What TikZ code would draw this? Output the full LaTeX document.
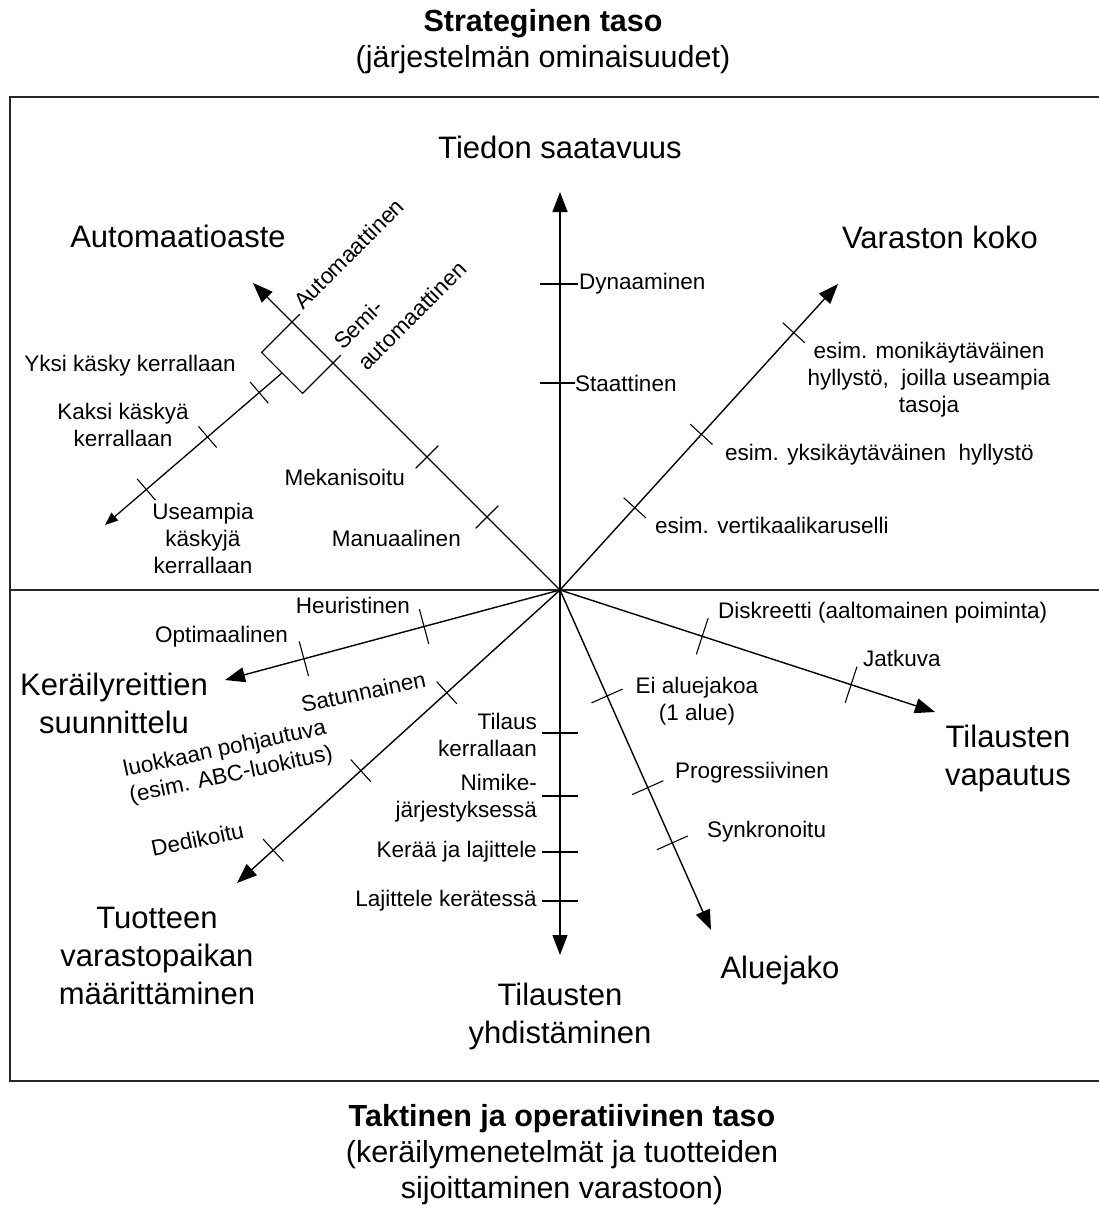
\documentclass[tikz,border=0pt]{standalone}
\usepackage{fontspec}
\setmainfont{Liberation Sans}
\usetikzlibrary{arrows.meta,calc}

\newcommand{\axtick}[4]{%
  \coordinate (tmp) at ($(#1)!(#3)!(#2)$);
  \draw[tk] ($(tmp)!#4!90:(#2)$) -- ($(tmp)!#4!-90:(#2)$);}

\begin{document}
\begin{tikzpicture}[x=1pt,y=-1pt,
  frame/.style={line width=1.6pt,draw=black!85},
  ax/.style={line width=1.4pt,-{Triangle[length=20pt,width=15pt]}},
  axs/.style={line width=1.3pt,-{Triangle[length=13pt,width=10pt]}},
  tk/.style={line width=1.1pt},
  lbl/.style={inner sep=0pt,font=\fontsize{22.5}{27}\selectfont},
  head/.style={inner sep=0pt,align=center,font=\fontsize{31}{38}\selectfont},
  ttl/.style={inner sep=0pt,align=center,font=\fontsize{30.5}{36}\selectfont}]
\useasboundingbox (0,0) rectangle (1099,1209);

% frame and divider
\draw[frame] (1099,97) -- (10,97) -- (10,1081) -- (1099,1081);
\draw[frame] (10,590) -- (1099,590);

% titles
\node[ttl] (t1) at (543,42) {\textbf{Strateginen taso}\\(järjestelmän ominaisuudet)};
\node[ttl] (t2) at (562,1155) {\textbf{Taktinen ja operatiivinen taso}\\(keräilymenetelmät ja tuotteiden\\sijoittaminen varastoon)};

% centre and axis ends
\coordinate (O) at (560,590);
\coordinate (Eup) at (560,192);
\coordinate (Edown) at (560,955);
\coordinate (Evar) at (838,284);
\coordinate (Eaut) at (253,283);
\coordinate (Eker) at (225,680);
\coordinate (Etuo) at (237,883);
\coordinate (Evap) at (935,712);
\coordinate (Ealu) at (711,930);

\draw[ax] (O) -- (Eup);
\draw[ax] (O) -- (Edown);
\draw[ax] (O) -- (Evar);
\draw[ax] (O) -- (Eaut);
\draw[ax] (O) -- (Eker);
\draw[ax] (O) -- (Etuo);
\draw[ax] (O) -- (Evap);
\draw[ax] (O) -- (Ealu);

% headings
\node[head] (hTie) at (560,147) {Tiedon saatavuus};
\node[head] (hAut) at (178,236) {Automaatioaste};
\node[head] (hVar) at (940,237) {Varaston koko};
\node[head] (hKer) at (114,703) {Keräilyreittien\\suunnittelu};
\node[head] (hVap) at (1008,758) {Tilausten\\vapautus};
\node[head] (hAlu) at (780,970) {Aluejako};
\node[head] (hYhd) at (560,1016) {Tilausten\\yhdistäminen};
\node[head] (hTuo) at (157,956) {Tuotteen\\varastopaikan\\määrittäminen};

% vertical up axis ticks
\draw[tk] (540,284) -- (578,284);
\draw[tk] (540,383) -- (575,383);
\node[lbl,anchor=west] (lDyn) at (579,284) {Dynaaminen};
\node[lbl,anchor=west] (lSta) at (575,383) {Staattinen};

% vertical down axis ticks
\draw[tk] (542,733) -- (578,733);
\draw[tk] (542,796) -- (578,796);
\draw[tk] (542,852) -- (578,852);
\draw[tk] (542,901) -- (578,901);
\node[lbl,anchor=east,align=right] (lTil) at (537,735) {Tilaus\\kerrallaan};
\node[lbl,anchor=east,align=right] (lNim) at (537,798) {Nimike-\\järjestyksessä};
\node[lbl,anchor=east] (lKer) at (537,852) {Kerää ja lajittele};
\node[lbl,anchor=east] (lLaj) at (537,901) {Lajittele kerätessä};

% Varaston koko
\axtick{O}{Evar}{635,508}{15pt}
\axtick{O}{Evar}{701,434}{15pt}
\axtick{O}{Evar}{793,332}{15pt}
\node[lbl,align=center] (lMon) at (929,380) {esim. monikäytäväinen\\hyllystö,\ \ joilla useampia\\tasoja};
\node[lbl,anchor=west] (lYks) at (725,455) {esim. yksikäytäväinen\ \ hyllystö};
\node[lbl,anchor=west] (lVer) at (655,525) {esim. vertikaalikaruselli};

% Automaatioaste
\axtick{O}{Eaut}{427,457}{16pt}
\axtick{O}{Eaut}{487,517}{16pt}
\coordinate (pa) at ($(O)!(292,322)!(Eaut)$);
\coordinate (ps) at ($(O)!(333,363)!(Eaut)$);
\coordinate (pa2) at ($(pa)!43pt!90:(Eaut)$);
\coordinate (ps2) at ($(ps)!43pt!90:(Eaut)$);
\coordinate (pa3) at ($(pa)!11pt!-90:(Eaut)$);
\coordinate (ps3) at ($(ps)!11pt!-90:(Eaut)$);
\draw[tk] (pa3) -- (pa2) -- (ps2) -- (ps3);
\coordinate (Sstart) at ($(pa2)!0.5!(ps2)$);
\coordinate (Send) at (105,525);
\draw[axs] (Sstart) -- (Send);
\axtick{Sstart}{Send}{257,390}{14pt}
\axtick{Sstart}{Send}{205,434}{14pt}
\axtick{Sstart}{Send}{145,488}{14pt}
\node[lbl,rotate=45,anchor=base west] (lAut) at (303,311) {Automaattinen};
\node[lbl,rotate=45,anchor=base west] (lSem1) at (343,351) {Semi-};
\node[lbl,rotate=45,anchor=base west] (lSem2) at (367,372) {automaattinen};
\node[lbl,anchor=east] (lYksi) at (236,366) {Yksi käsky kerrallaan};
\node[lbl,align=center] (lKak) at (123,425) {Kaksi käskyä\\kerrallaan};
\node[lbl,align=center] (lUse) at (203,538) {Useampia\\käskyjä\\kerrallaan};
\node[lbl,anchor=east] (lMek) at (405,477) {Mekanisoitu};
\node[lbl,anchor=east] (lMan) at (461,538) {Manuaalinen};

% Keräilyreittien suunnittelu
\axtick{O}{Eker}{425,630}{18pt}
\axtick{O}{Eker}{305,663}{18pt}
\node[lbl,anchor=east] (lHeu) at (410,605) {Heuristinen};
\node[lbl,anchor=east] (lOpt) at (288,637) {Optimaalinen};

% Tuotteen varastopaikan määrittäminen
\axtick{O}{Etuo}{447,693}{15pt}
\axtick{O}{Etuo}{362,772}{15pt}
\axtick{O}{Etuo}{273,850}{15pt}
\node[lbl,rotate=12,anchor=base west] (lSat) at (303,713) {Satunnainen};
\node[lbl,rotate=12,anchor=base west] (lLuo1) at (125,777) {luokkaan pohjautuva};
\node[lbl,rotate=12,anchor=base west] (lLuo2) at (131,803) {(esim. ABC-luokitus)};
\node[lbl,rotate=12,anchor=base west] (lDed) at (153,857) {Dedikoitu};

% Tilausten vapautus
\axtick{O}{Evap}{702,637}{19pt}
\axtick{O}{Evap}{850,688}{19pt}
\node[lbl,anchor=west] (lDis) at (718,613) {Diskreetti (aaltomainen poiminta)};
\node[lbl,anchor=west] (lJat) at (863,658) {Jatkuva};

% Aluejako
\axtick{O}{Ealu}{607,696}{17pt}
\axtick{O}{Ealu}{647,788}{17pt}
\axtick{O}{Ealu}{672,843}{17pt}
\node[lbl,align=center] (lEi) at (697,701) {Ei aluejakoa\\(1 alue)};
\node[lbl,anchor=west] (lPro) at (675,773) {Progressiivinen};
\node[lbl,anchor=west] (lSyn) at (707,832) {Synkronoitu};
\end{tikzpicture}
\end{document}
